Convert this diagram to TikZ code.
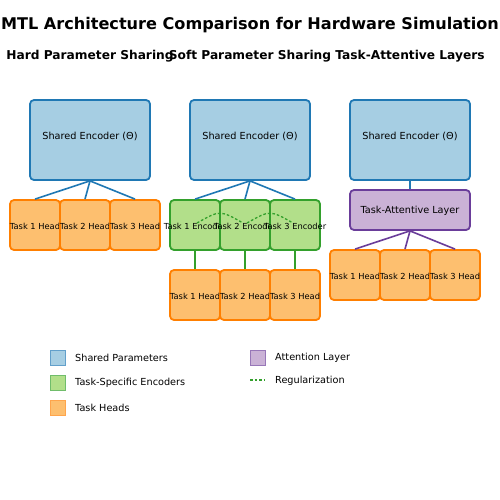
\documentclass[tikz,border=0pt]{standalone}
\usepackage{fontspec}
\setmainfont{DejaVu Sans}
\begin{document}
\begin{tikzpicture}[x=1pt,y=-1pt,
  box/.style={draw, line width=1.8pt, rounded corners=4pt, inner sep=0pt, anchor=center},
  shared/.style={box, fill=shfill, draw=shdraw, minimum width=120pt, minimum height=80pt},
  attn/.style={box, fill=atfill, draw=atdraw, minimum width=120pt, minimum height=40pt},
  head/.style={box, fill=hdfill, draw=hddraw, minimum width=50pt, minimum height=50pt},
  enc/.style={box, fill=enfill, draw=endraw, minimum width=50pt, minimum height=50pt},
  stxt/.style={inner sep=0pt, font=\fontsize{8.3}{9}\selectfont, yshift=-1.7pt},
  btxt/.style={inner sep=0pt, font=\fontsize{9.7}{11}\selectfont},
  blink/.style={draw=shdraw, line width=1.6pt},
  glink/.style={draw=endraw, line width=1.6pt},
  plink/.style={draw=atdraw, line width=1.6pt},
  reg/.style={draw=endraw, line width=1.3pt, dash pattern=on 2.6pt off 2pt},
  legbox/.style={draw, line width=1pt, minimum width=15pt, minimum height=15pt, inner sep=0pt},
  legtxt/.style={anchor=west, inner sep=0pt, font=\fontsize{9.7}{11}\selectfont},
  subt/.style={font=\bfseries\fontsize{12.2}{14}\selectfont, inner sep=0pt}
]
\definecolor{shfill}{HTML}{A6CEE3}
\definecolor{shdraw}{HTML}{1F78B4}
\definecolor{enfill}{HTML}{B2DF8A}
\definecolor{endraw}{HTML}{33A02C}
\definecolor{hdfill}{HTML}{FDBF6F}
\definecolor{hddraw}{HTML}{FF7F00}
\definecolor{atfill}{HTML}{CAB2D6}
\definecolor{atdraw}{HTML}{6A3D9A}
\useasboundingbox (0,0) rectangle (500,500);
\fill[white] (0,0) rectangle (500,500);

\node[font=\bfseries\fontsize{16.1}{19}\selectfont, inner sep=0pt] (title) at (250,25) {MTL Architecture Comparison for Hardware Simulation};
\node[subt] (st1) at (90,56) {Hard Parameter Sharing};
\node[subt] (st2) at (250,56) {Soft Parameter Sharing};
\node[subt] (st3) at (410,56) {Task-Attentive Layers};

% Hard sharing
\node[shared] (se1) at (90,140) {};
\node[btxt] (se1t) at ([yshift=3.5pt]se1.center) {Shared Encoder (Θ)};
\node[head] (h11) at (35,225) {};
\node[stxt] (h11t) at (h11.center) {Task 1 Head};
\node[head] (h12) at (85,225) {};
\node[stxt] (h12t) at (h12.center) {Task 2 Head};
\node[head] (h13) at (135,225) {};
\node[stxt] (h13t) at (h13.center) {Task 3 Head};
\foreach \h in {h11,h12,h13} \draw[blink] (se1.south) -- (\h.north);

% Soft sharing
\node[shared] (se2) at (250,140) {};
\node[btxt] (se2t) at ([yshift=3.5pt]se2.center) {Shared Encoder (Θ)};
\node[enc] (e1) at (195,225) {};
\node[stxt] (e1t) at (e1.center) {Task 1 Encoder};
\node[enc] (e2) at (245,225) {};
\node[stxt] (e2t) at (e2.center) {Task 2 Encoder};
\node[enc] (e3) at (295,225) {};
\node[stxt] (e3t) at (e3.center) {Task 3 Encoder};
\node[head] (h21) at (195,295) {};
\node[stxt] (h21t) at (h21.center) {Task 1 Head};
\node[head] (h22) at (245,295) {};
\node[stxt] (h22t) at (h22.center) {Task 2 Head};
\node[head] (h23) at (295,295) {};
\node[stxt] (h23t) at (h23.center) {Task 3 Head};
\foreach \e in {e1,e2,e3} \draw[blink] (se2.south) -- (\e.north);
\draw[glink] (e1.south) -- (h21.north);
\draw[glink] (e2.south) -- (h22.north);
\draw[glink] (e3.south) -- (h23.north);
\draw[reg] (e1.center) ++(2,-2) .. controls (220,210) .. (243,223);
\draw[reg] (e2.center) ++(2,-2) .. controls (270,210) .. (293,223);

% Task-attentive
\node[shared] (se3) at (410,140) {};
\node[btxt] (se3t) at ([yshift=3.5pt]se3.center) {Shared Encoder (Θ)};
\node[attn] (at) at (410,210) {};
\node[btxt] (att) at ([yshift=-1pt]at.center) {Task-Attentive Layer};
\node[head] (h31) at (355,275) {};
\node[stxt] (h31t) at (h31.center) {Task 1 Head};
\node[head] (h32) at (405,275) {};
\node[stxt] (h32t) at (h32.center) {Task 2 Head};
\node[head] (h33) at (455,275) {};
\node[stxt] (h33t) at (h33.center) {Task 3 Head};
\draw[blink] (se3.south) -- (at.north);
\foreach \h in {h31,h32,h33} \draw[plink] (at.south) -- (\h.north);

% Legend
\node[legbox, fill=shfill, draw=shdraw!70] (l1) at (57.5,357.5) {};
\node[legtxt] (l1t) at (75,358) {Shared Parameters};
\node[legbox, fill=enfill, draw=endraw!70] (l2) at (57.5,382.5) {};
\node[legtxt] (l2t) at (75,383) {Task-Specific Encoders};
\node[legbox, fill=hdfill, draw=hddraw!70] (l3) at (57.5,407.5) {};
\node[legtxt] (l3t) at (75,408) {Task Heads};
\node[legbox, fill=atfill, draw=atdraw!70] (l4) at (257.5,357.5) {};
\node[legtxt] (l4t) at (275,358) {Attention Layer};
\coordinate (r1) at (250,380);
\coordinate (r2) at (264,380);
\draw[reg] (r1) -- (r2);
\node[legtxt] (l5t) at (275,380.5) {Regularization};
\end{tikzpicture}
\end{document}
